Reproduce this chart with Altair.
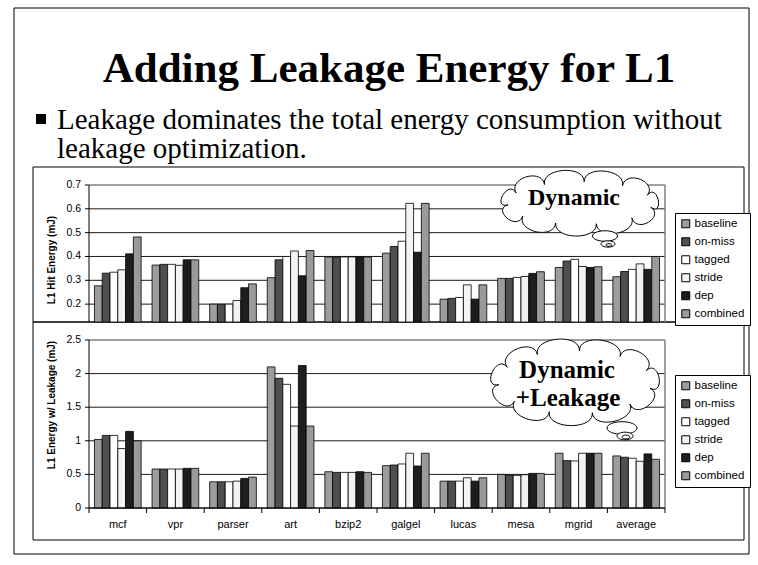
import math
import altair as alt
import pandas as pd

# ---- data -------------------------------------------------------------
benchmarks = ["mcf", "vpr", "parser", "art", "bzip2", "galgel", "lucas", "mesa", "mgrid", "average"]
schemes = ["baseline", "on-miss", "tagged", "stride", "dep", "combined"]
scheme_colors = ["#9d9d9d", "#4f4f4f", "#ffffff", "#f3f3f3", "#1e1e1e", "#9a9a9a"]

# L1 hit energy (mJ), one list per scheme, benchmark order
hit_baseline = [0.277, 0.364, 0.200, 0.311, 0.398, 0.414, 0.221, 0.308, 0.354, 0.315]
hit_on_miss = [0.330, 0.367, 0.200, 0.386, 0.398, 0.442, 0.224, 0.308, 0.381, 0.337]
hit_tagged = [0.334, 0.367, 0.200, 0.400, 0.398, 0.464, 0.228, 0.312, 0.388, 0.346]
hit_stride = [0.344, 0.363, 0.215, 0.423, 0.398, 0.623, 0.281, 0.316, 0.358, 0.369]
hit_dep = [0.411, 0.386, 0.269, 0.319, 0.398, 0.418, 0.221, 0.329, 0.354, 0.346]
hit_combined = [0.482, 0.386, 0.285, 0.425, 0.398, 0.623, 0.281, 0.336, 0.357, 0.400]

# L1 energy including leakage (mJ)
leak_baseline = [1.02, 0.58, 0.39, 2.10, 0.54, 0.63, 0.40, 0.50, 0.815, 0.775]
leak_on_miss = [1.08, 0.58, 0.39, 1.93, 0.53, 0.64, 0.40, 0.49, 0.705, 0.755]
leak_tagged = [1.08, 0.58, 0.39, 1.84, 0.53, 0.655, 0.40, 0.485, 0.70, 0.74]
leak_stride = [0.885, 0.58, 0.40, 1.22, 0.53, 0.815, 0.45, 0.495, 0.815, 0.695]
leak_dep = [1.14, 0.59, 0.44, 2.12, 0.54, 0.625, 0.40, 0.515, 0.815, 0.805]
leak_combined = [1.00, 0.59, 0.46, 1.22, 0.53, 0.815, 0.45, 0.515, 0.815, 0.725]

hit_ticks = [0.2, 0.3, 0.4, 0.5, 0.6, 0.7]
hit_tick_labels = ["0.2", "0.3", "0.4", "0.5", "0.6", "0.7"]
leak_ticks = [0, 0.5, 1, 1.5, 2, 2.5]
leak_tick_labels = ["0", "0.5", "1", "1.5", "2", "2.5"]

slide_title = "Adding Leakage Energy for L1"
bullet_lines = ["Leakage dominates the total energy consumption without",
                "leakage optimization."]
hit_axis_title = "L1 Hit Energy  (mJ)"
leak_axis_title = "L1 Energy w/ Leakage (mJ)"


def long_table(series):
    rows = []
    for s, vals in zip(schemes, series):
        for b, v in zip(benchmarks, vals):
            rows.append({"bench": b, "scheme": s, "value": v})
    return pd.DataFrame(rows)


hit_df = long_table([hit_baseline, hit_on_miss, hit_tagged, hit_stride, hit_dep, hit_combined])
leak_df = long_table([leak_baseline, leak_on_miss, leak_tagged, leak_stride, leak_dep, leak_combined])
hit_tick_df = pd.DataFrame({"t": hit_ticks, "label": hit_tick_labels})
leak_tick_df = pd.DataFrame({"t": leak_ticks, "label": leak_tick_labels})
bench_df = pd.DataFrame({"bench": benchmarks})
one = pd.DataFrame({"k": [0]})

# ---- layout (pixels) ------------------------------------------------------
W, H = 758, 565
PL, PR = 89, 665                 # plot area left / right
TOP_RANGE = [322, 185]           # upper panel value axis
BOT_RANGE = [508, 340]           # lower panel value axis
HIT_MIN, HIT_MAX = 0.125, 0.7
LEAK_MIN, LEAK_MAX = 0, 2.5

SERIF = "Liberation Serif"
SANS = "Liberation Sans"

x_scale = alt.Scale(domain=benchmarks, range=[PL, PR], paddingInner=0, paddingOuter=0)
off_scale = alt.Scale(domain=schemes, paddingInner=0, paddingOuter=0.7)
hit_scale = alt.Scale(domain=[HIT_MIN, HIT_MAX], range=TOP_RANGE, zero=False, nice=False)
leak_scale = alt.Scale(domain=[LEAK_MIN, LEAK_MAX], range=BOT_RANGE, zero=False, nice=False)
color_scale = alt.Scale(domain=schemes, range=scheme_colors)


def frame(x1, x2, y1, y2, color="black", width=1.0):
    return alt.Chart(one).mark_rect(fill=None, stroke=color, strokeWidth=width).encode(
        x=alt.value(x1), x2=alt.value(x2), y=alt.value(y1), y2=alt.value(y2))


def hline(x1, x2, y, color="black", width=1.0):
    return alt.Chart(one).mark_rule(color=color, strokeWidth=width).encode(
        x=alt.value(x1), x2=alt.value(x2), y=alt.value(y))


def vline(x, y1, y2, color="black", width=1.0):
    return alt.Chart(one).mark_rule(color=color, strokeWidth=width).encode(
        x=alt.value(x), y=alt.value(y1), y2=alt.value(y2))


def label(text, x, y, size, font=SERIF, weight="normal", align="center",
          baseline="alphabetic", angle=0):
    kw = dict(text=text, font=font, fontSize=size, fontWeight=weight, align=align,
              baseline=baseline, color="black")
    if angle:
        kw["angle"] = angle
    return alt.Chart(one).mark_text(**kw).encode(x=alt.value(x), y=alt.value(y))


def gridlines(tick_df, scale, top_value):
    inner = alt.Chart(tick_df).transform_filter(alt.datum.t < top_value).mark_rule(
        color="black", strokeWidth=0.9).encode(
        y=alt.Y("t:Q", scale=scale, axis=None), x=alt.value(PL), x2=alt.value(PR))
    top = alt.Chart(tick_df).transform_filter(alt.datum.t >= top_value).mark_rule(
        color="#808080", strokeWidth=1.5).encode(
        y=alt.Y("t:Q", scale=scale, axis=None), x=alt.value(PL), x2=alt.value(PR))
    return [inner, top]


def y_ticks(tick_df, scale):
    marks = alt.Chart(tick_df).mark_rule(color="black", strokeWidth=1).encode(
        y=alt.Y("t:Q", scale=scale, axis=None), x=alt.value(PL - 4), x2=alt.value(PL))
    texts = alt.Chart(tick_df).mark_text(font=SANS, fontSize=10.5, align="right",
                                         baseline="middle", color="black").encode(
        y=alt.Y("t:Q", scale=scale, axis=None), x=alt.value(PL - 8), text="label:N")
    return [marks, texts]


def bars(df, scale, base, legend_y):
    return alt.Chart(df).mark_bar(stroke="black", strokeWidth=0.8).encode(
        x=alt.X("bench:N", scale=x_scale, sort=benchmarks, axis=None),
        xOffset=alt.XOffset("scheme:N", scale=off_scale, sort=schemes),
        y=alt.Y("value:Q", scale=scale, axis=None),
        y2=alt.datum(base),
        color=alt.Color("scheme:N", scale=color_scale, sort=schemes,
                        legend=alt.Legend(
                            title=None, orient="none", legendX=675, legendY=legend_y,
                            symbolType="square", symbolSize=64, symbolStrokeColor="black",
                            symbolStrokeWidth=1, labelFont=SANS, labelFontSize=11.5,
                            labelColor="black", labelOffset=3, rowPadding=5,
                            padding=5, strokeColor="black", fillColor="white")),
    )


def cloud_path(aspect, lobes, bulge, phase):
    a = 1 - 0.75 * bulge
    b = aspect - 0.75 * bulge
    pts = []
    for i in range(lobes):
        t = 2 * math.pi * i / lobes + phase
        px, py = a * math.cos(t), b * math.sin(t)
        nx, ny = b * math.cos(t), a * math.sin(t)
        n = math.hypot(nx, ny)
        pts.append((px, py, nx / n, ny / n))
    d = "M%.3f,%.3f" % (pts[0][0], pts[0][1])
    c = bulge
    for i in range(lobes):
        x0, y0, nx0, ny0 = pts[i]
        x1, y1, nx1, ny1 = pts[(i + 1) % lobes]
        d += " C%.3f,%.3f %.3f,%.3f %.3f,%.3f" % (
            x0 + nx0 * c, y0 + ny0 * c, x1 + nx1 * c, y1 + ny1 * c, x1, y1)
    return d + " Z"


def ellipse_path(r):
    k = 0.552
    return ("M-1,0 C-1,%.3f %.3f,%.3f 0,%.3f C%.3f,%.3f 1,%.3f 1,0 "
            "C1,%.3f %.3f,%.3f 0,%.3f C%.3f,%.3f -1,%.3f -1,0 Z") % (
        -k * r, -k, -r, -r, k, -r, -k * r,
        k * r, k, r, r, -k, r, k * r)


def shape(path, x, y, width, stroke_width=1.0):
    return alt.Chart(one).mark_point(shape=path, size=width * width, filled=True,
                                     fill="white", stroke="black",
                                     strokeWidth=stroke_width, opacity=1).encode(
        x=alt.value(x), y=alt.value(y))


layers = []

# slide frame and chart boxes
layers.append(frame(14, 749, 8, 554))
layers.append(frame(33, 744, 167, 322))
layers.append(frame(33, 744, 322, 540))

# gridlines
layers += gridlines(hit_tick_df, hit_scale, HIT_MAX)
layers += gridlines(leak_tick_df, leak_scale, LEAK_MAX)
layers.append(vline(PR, TOP_RANGE[1], TOP_RANGE[0], color="#808080", width=1.5))
layers.append(vline(PR, BOT_RANGE[1], BOT_RANGE[0], color="#808080", width=1.5))

# bars
layers.append(bars(hit_df, hit_scale, HIT_MIN, 213))
layers.append(bars(leak_df, leak_scale, LEAK_MIN, 375))

# axes
layers.append(vline(PL, TOP_RANGE[1], TOP_RANGE[0]))
layers.append(vline(PL, BOT_RANGE[1], BOT_RANGE[0]))
layers.append(hline(PL, PR, BOT_RANGE[0]))
layers += y_ticks(hit_tick_df, hit_scale)
layers += y_ticks(leak_tick_df, leak_scale)
layers.append(alt.Chart(bench_df).mark_rule(color="black").encode(
    x=alt.X("bench:N", scale=x_scale, sort=benchmarks, axis=None, bandPosition=0),
    y=alt.value(BOT_RANGE[0]), y2=alt.value(BOT_RANGE[0] + 5)))
layers.append(vline(PR, BOT_RANGE[0], BOT_RANGE[0] + 5))
layers.append(alt.Chart(bench_df).mark_text(font=SANS, fontSize=11, baseline="middle",
                                            color="black").encode(
    x=alt.X("bench:N", scale=x_scale, sort=benchmarks, axis=None),
    y=alt.value(525), text="bench:N"))
layers.append(label(hit_axis_title, 52, 260, 10, font=SANS, weight="bold",
                    baseline="middle", angle=270))
layers.append(label(leak_axis_title, 52, 405, 10, font=SANS, weight="bold",
                    baseline="middle", angle=270))

# thought clouds
layers.append(shape(cloud_path(0.40, 11, 0.2, 0.2), 580, 203, 170))
layers.append(shape(ellipse_path(0.42), 605, 236, 25))
layers.append(shape(ellipse_path(0.45), 608, 244, 14))
layers.append(shape(ellipse_path(0.45), 609, 245, 6))
layers.append(label("Dynamic", 574, 205, 24, weight="bold"))

layers.append(shape(cloud_path(0.50, 11, 0.2, 0.2), 575, 382, 180))
layers.append(shape(ellipse_path(0.42), 622, 428, 30))
layers.append(shape(ellipse_path(0.48), 625, 436, 16))
layers.append(shape(ellipse_path(0.48), 626, 437, 8))
layers.append(label("Dynamic", 567, 378, 25, weight="bold"))
layers.append(label("+Leakage", 568, 406, 25, weight="bold"))

# slide heading and bullet
layers.append(label(slide_title, 389, 82, 43, weight="bold"))
layers.append(alt.Chart(one).mark_point(shape="square", filled=True, color="black",
                                        size=100, opacity=1).encode(
    x=alt.value(41), y=alt.value(119)))
layers.append(label(bullet_lines[0], 57, 129, 29, align="left"))
layers.append(label(bullet_lines[1], 57, 158, 29, align="left"))

chart = alt.layer(*layers).properties(
    width=W, height=H, padding=0,
    autosize=alt.AutoSizeParams(type="none"),
    background="white",
).resolve_scale(y="independent", color="independent").resolve_legend(
    color="independent").configure_view(stroke=None)

chart.save("out.html", embed_options={"renderer": "svg", "actions": False})
